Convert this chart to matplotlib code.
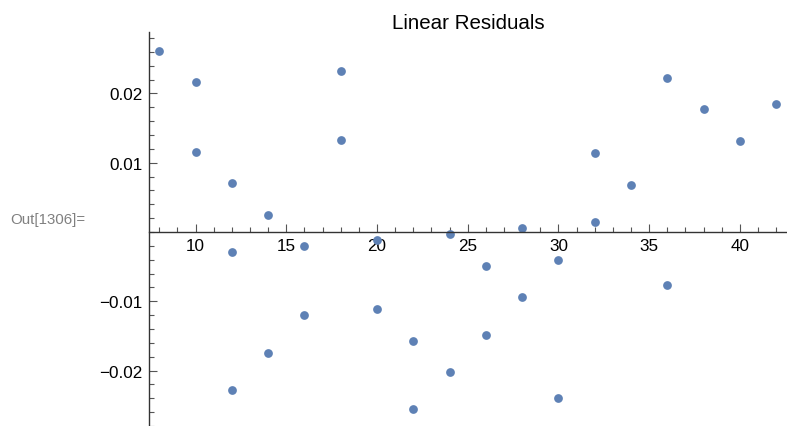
import matplotlib
matplotlib.use('Agg')
import matplotlib.pyplot as plt
from matplotlib.ticker import MultipleLocator, FixedLocator, FuncFormatter

# residual data
x_vals = [8, 10, 10, 12, 12, 12, 14, 14, 16, 16, 18, 18, 20, 20, 22, 22,
          24, 24, 26, 26, 28, 28, 30, 30, 32, 32, 34, 36, 36, 38, 40, 42]
residuals = [0.0261, 0.0216, 0.0116, 0.0071, -0.0029, -0.0228,
             0.0025, -0.0174, -0.0020, -0.0120, 0.0233, 0.0133,
             -0.0011, -0.0111, -0.0157, -0.0256, -0.0003, -0.0202,
             -0.0049, -0.0148, 0.0006, -0.0094, -0.0040, -0.0239,
             0.0114, 0.0014, 0.0068, 0.0222, -0.0077, 0.0177,
             0.0131, 0.0185]
x_major = [10, 15, 20, 25, 30, 35, 40]
y_major = [-0.02, -0.01, 0.01, 0.02]

plt.rcParams['font.family'] = ['Liberation Sans', 'DejaVu Sans']

fig = plt.figure(figsize=(7.87, 4.27), dpi=100)
ax = fig.add_axes([0.1897, 0.0, 0.8103, 0.9234])

ax.plot(x_vals, residuals, 'o', color='#5E81B5', markersize=6.3,
        markeredgewidth=0, clip_on=False)

ax.set_xlim(7.45, 42.6)
ax.set_ylim(-0.028, 0.0289)

ax.spines['top'].set_visible(False)
ax.spines['right'].set_visible(False)
ax.spines['bottom'].set_position(('data', 0))
for s in ['left', 'bottom']:
    ax.spines[s].set_color('#333333')
    ax.spines[s].set_linewidth(1.0)

ax.xaxis.set_major_locator(FixedLocator(x_major))
ax.xaxis.set_minor_locator(MultipleLocator(1))
ax.yaxis.set_major_locator(FixedLocator(y_major))
ax.yaxis.set_minor_locator(MultipleLocator(0.002))
ax.yaxis.set_major_formatter(FuncFormatter(
    lambda v, p: ('%.2f' % v).replace('-', '\u2212')))

ax.tick_params(axis='both', which='major', direction='in', length=5.5,
               width=0.8, color='#555555', labelsize=12.3)
ax.tick_params(axis='both', which='minor', direction='in', length=3.4,
               width=0.8, color='#555555')
ax.tick_params(axis='x', which='major', pad=4)
ax.tick_params(axis='y', which='major', pad=5)

ax.set_title('Linear Residuals', fontsize=14.8, pad=3)

fig.text(0.0127, 0.485, 'Out[1306]=', color='#808080', fontsize=10.8,
         va='center', ha='left')

plt.savefig('out.png', dpi=100)
plt.close()
